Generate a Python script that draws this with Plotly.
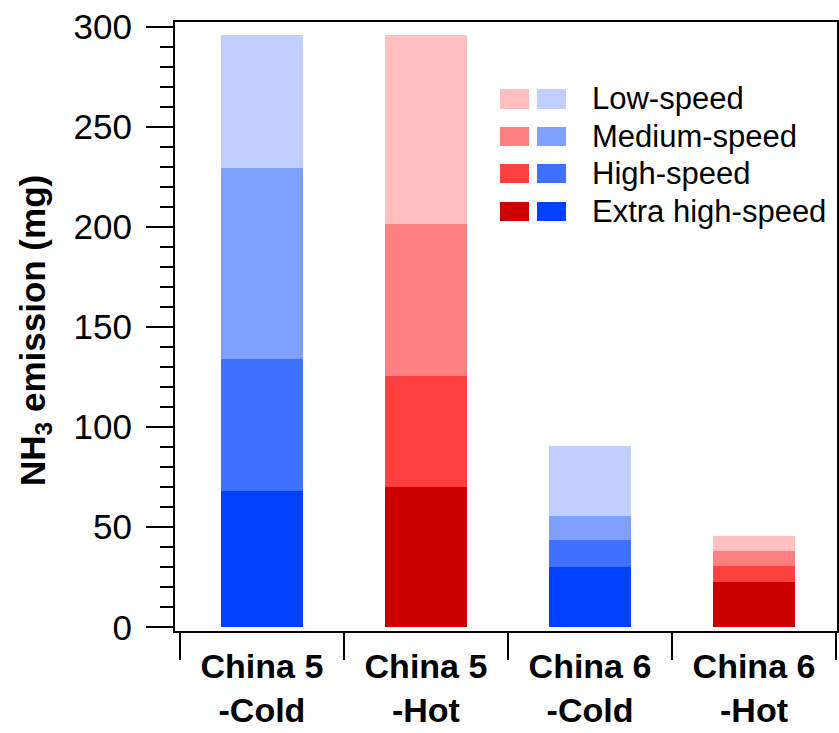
import plotly.graph_objects as go

# NH3 emission per test cycle, split by speed phase (mg)
categories = ["China 5<br>-Cold", "China 5<br>-Hot", "China 6<br>-Cold", "China 6<br>-Hot"]
extra_high = [67.9, 69.9, 30.0, 22.5]
high = [66.1, 55.4, 13.8, 8.0]
medium = [95.3, 76.3, 12.0, 7.5]
low = [66.5, 94.2, 34.9, 7.5]

phase_names = ["Extra high-speed", "High-speed", "Medium-speed", "Low-speed"]
phase_values = [extra_high, high, medium, low]

# cold starts in blue shades, hot starts in red shades
blue_shades = ["rgb(0,64,255)", "rgb(64,112,255)", "rgb(128,160,255)", "rgb(192,207,255)"]
red_shades = ["rgb(204,0,0)", "rgb(255,64,64)", "rgb(255,128,128)", "rgb(255,191,191)"]
is_cold = [True, False, True, False]

FONT = "Arial, Liberation Sans, sans-serif"

fig = go.Figure()
for name, vals, b, r in zip(phase_names, phase_values, blue_shades, red_shades):
    fig.add_trace(go.Bar(
        x=categories, y=vals, name=name, width=0.5,
        marker=dict(color=[b if c else r for c in is_cold], line=dict(width=0)),
        showlegend=False,
    ))

W, H = 839, 733
L, R, T, B = 175, 2, 22, 102
pw, ph = W - L - R, H - T - B


def px(x):
    return (x - L) / pw


def py(y):
    return 1 - (y - T) / ph


# two-swatch legend (hot / cold) drawn in paper space
shapes = []
annotations = []
rows = [(89, 109), (127, 146), (164, 183), (202, 221)]
legend_order = [3, 2, 1, 0]
for (y0, y1), idx in zip(rows, legend_order):
    shapes.append(dict(type="rect", xref="paper", yref="paper",
                       x0=px(500), x1=px(529), y0=py(y1), y1=py(y0),
                       fillcolor=red_shades[idx], line=dict(width=0)))
    shapes.append(dict(type="rect", xref="paper", yref="paper",
                       x0=px(537), x1=px(566), y0=py(y1), y1=py(y0),
                       fillcolor=blue_shades[idx], line=dict(width=0)))
    annotations.append(dict(text=phase_names[idx], xref="paper", yref="paper",
                            x=px(590), y=py((y0 + y1) / 2), xanchor="left", yanchor="middle",
                            showarrow=False, font=dict(family=FONT, size=31, color="black")))

annotations.append(dict(text="<b>NH<sub>3</sub> emission (mg)</b>", xref="paper", yref="paper",
                        x=px(35), y=py(331), textangle=-90, xanchor="center", yanchor="middle",
                        showarrow=False, font=dict(family=FONT, size=35, color="black")))

fig.update_layout(
    width=W, height=H,
    margin=dict(l=L, r=R, t=T, b=B, autoexpand=False),
    paper_bgcolor="white", plot_bgcolor="white",
    barmode="stack",
    shapes=shapes, annotations=annotations,
)

fig.update_xaxes(
    range=[-0.53, 3.506], showgrid=False, zeroline=False,
    showline=True, linecolor="black", linewidth=2, mirror=True,
    ticks="outside", tickson="boundaries", ticklen=27, tickwidth=2, tickcolor="black",
    tickfont=dict(family=FONT, size=34, color="black"),
    tickprefix="<b>", ticksuffix="</b>", ticklabelstandoff=4,
)
fig.update_yaxes(
    range=[-1.85, 302.25], showgrid=False, zeroline=False,
    showline=True, linecolor="black", linewidth=2, mirror=True,
    tickmode="linear", tick0=0, dtick=50,
    ticks="outside", ticklen=27, tickwidth=2, tickcolor="black",
    minor=dict(dtick=10, ticks="outside", ticklen=13, tickwidth=2, tickcolor="black", showgrid=False),
    tickfont=dict(family=FONT, size=35, color="black"), ticklabelstandoff=7,
)

fig.write_html("out.html")
